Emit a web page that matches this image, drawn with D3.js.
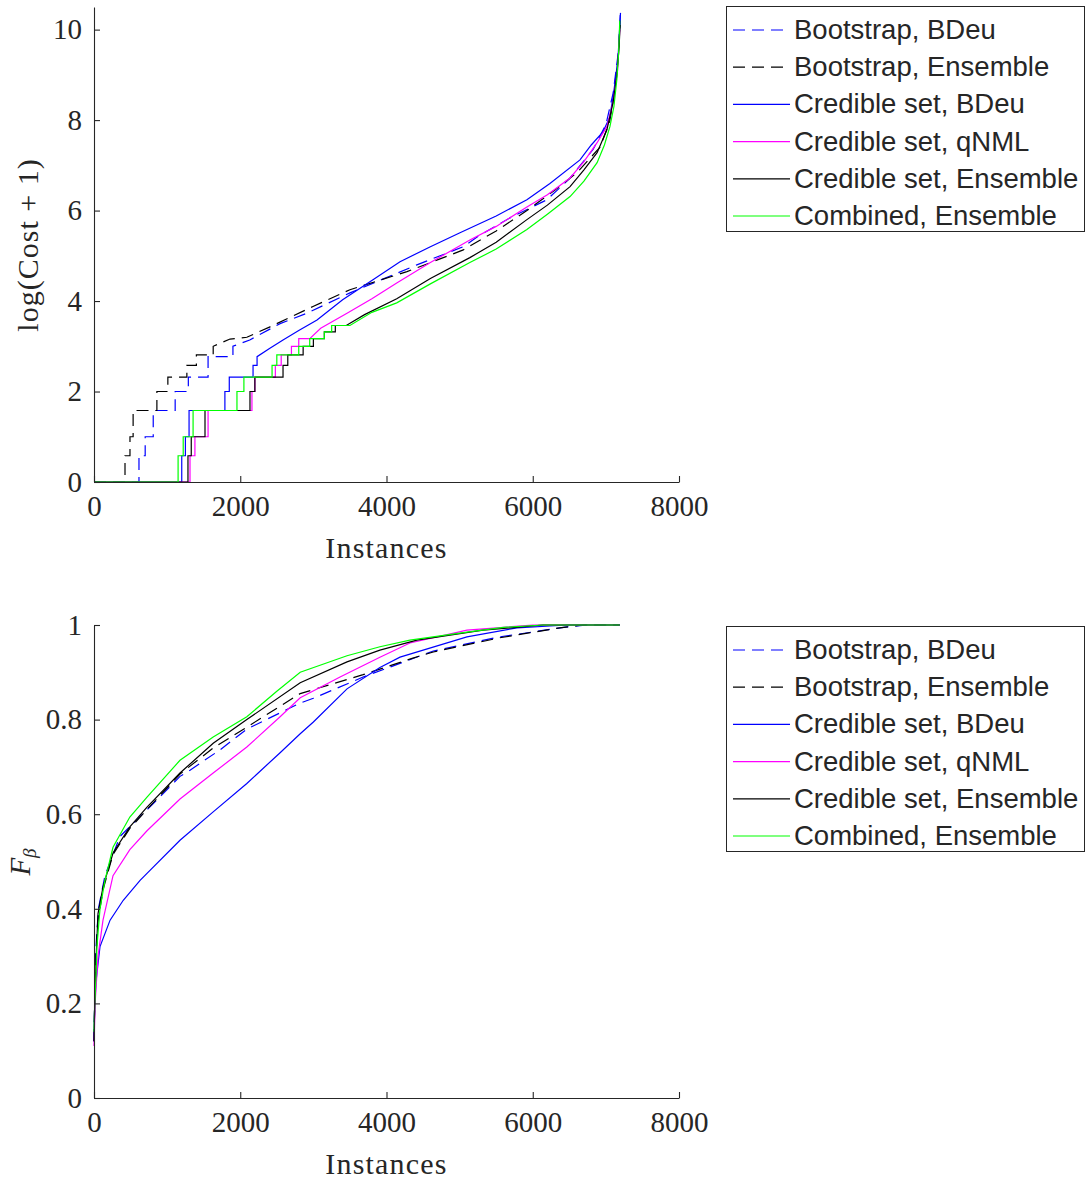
<!DOCTYPE html>
<html>
<head>
<meta charset="utf-8">
<title>Cost and F-beta by instances</title>
<script src="https://cdn.jsdelivr.net/npm/d3@7"></script>
<style>
  body { margin: 0; background: #fff; }
  svg text { fill: #262626; }
</style>
</head>
<body>
<div id="chart"></div>
<script>
// series names (legend order) and styles
var names = ["Bootstrap, BDeu", "Bootstrap, Ensemble", "Credible set, BDeu",
             "Credible set, qNML", "Credible set, Ensemble", "Combined, Ensemble"];
var colors = ["#0000ff", "#000000", "#0000ff", "#ff00ff", "#000000", "#00ff00"];
var dashed = [true, true, false, false, false, false];

var xTicks = [0, 2000, 4000, 6000, 8000];
var costTicks = [0, 2, 4, 6, 8, 10];
var fbTicks = [0, 0.2, 0.4, 0.6, 0.8, 1];

// top panel: log(Cost + 1) per instance, sorted
var costBootBDeu = [[0,0],[615,0],[615,0.58],[700,0.58],[700,1.0],[810,1.0],[810,1.58],[1110,1.58],[1110,2.0],[1290,2.0],[1290,2.32],[1560,2.32],[1560,2.77],[1900,2.77],[1900,3.0],[2130,3.14],[2545,3.5],[2910,3.73],[3500,4.18],[4415,4.8],[5050,5.2],[5280,5.46],[5700,5.85],[6195,6.24],[6500,6.7],[6825,7.35],[7000,7.9],[7100,8.6],[7170,9.5],[7200,10.4]];
var costBootEns = [[0,0],[424,0],[424,0.58],[492,0.58],[492,1.0],[535,1.0],[535,1.58],[860,1.58],[860,2.0],[1010,2.0],[1010,2.32],[1270,2.32],[1270,2.58],[1400,2.58],[1400,2.81],[1630,2.81],[1630,3.0],[1860,3.16],[2090,3.2],[2407,3.43],[2995,3.88],[3500,4.25],[4280,4.65],[5050,5.13],[5500,5.55],[5920,6.0],[6300,6.45],[6600,6.83],[6920,7.4],[7050,7.95],[7120,8.6],[7170,9.4],[7195,10.2]];
var costCredBDeu = [[0,0],[1200,0],[1200,0.58],[1250,0.58],[1250,1.0],[1300,1.0],[1300,1.58],[1790,1.58],[1790,2.0],[1850,2.0],[1850,2.32],[2175,2.32],[2175,2.58],[2230,2.58],[2230,2.77],[2400,2.95],[2585,3.14],[2800,3.35],[3050,3.58],[3400,4.03],[3815,4.47],[4185,4.87],[4600,5.2],[5005,5.51],[5500,5.88],[5920,6.24],[6235,6.6],[6646,7.12],[6800,7.45],[6960,7.74],[7050,8.05],[7100,8.52],[7165,9.34],[7200,10.37]];
var costCredQNML = [[0,0],[1313,0],[1313,0.58],[1380,0.58],[1380,1.0],[1560,1.0],[1560,1.58],[2160,1.58],[2160,2.0],[2200,2.0],[2200,2.32],[2480,2.32],[2480,2.58],[2560,2.58],[2560,2.81],[2700,2.81],[2700,3.0],[2800,3.0],[2800,3.17],[2950,3.17],[3100,3.4],[3460,3.73],[3800,4.05],[4140,4.4],[4600,4.85],[5140,5.35],[5500,5.65],[5920,6.08],[6200,6.35],[6510,6.72],[6700,7.08],[6880,7.5],[7015,7.86],[7100,8.4],[7160,9.1],[7190,10.0]];
var costCredEns = [[0,0],[1285,0],[1285,0.58],[1330,0.58],[1330,1.0],[1518,1.0],[1518,1.58],[2133,1.58],[2133,2.0],[2200,2.0],[2200,2.32],[2585,2.32],[2585,2.58],[2650,2.58],[2650,2.81],[2860,2.81],[2860,3.0],[3000,3.0],[3000,3.17],[3150,3.17],[3150,3.32],[3300,3.32],[3300,3.46],[3450,3.46],[3700,3.7],[4140,4.05],[4600,4.5],[5140,4.96],[5500,5.3],[5920,5.8],[6200,6.12],[6510,6.53],[6700,6.9],[6880,7.28],[7015,7.79],[7100,8.4],[7150,9.0],[7180,9.6],[7195,10.1]];
var costCombEns = [[0,0],[1150,0],[1150,0.58],[1220,0.58],[1220,1.0],[1355,1.0],[1355,1.58],[1955,1.58],[1955,2.0],[2050,2.0],[2050,2.32],[2435,2.32],[2435,2.58],[2500,2.58],[2500,2.81],[2800,2.81],[2800,3.0],[2950,3.0],[2950,3.17],[3150,3.17],[3150,3.32],[3250,3.32],[3250,3.46],[3500,3.46],[3800,3.75],[4140,3.96],[4600,4.38],[5140,4.85],[5500,5.15],[5920,5.58],[6200,5.92],[6510,6.31],[6700,6.65],[6880,7.06],[6980,7.45],[7056,7.86],[7110,8.3],[7150,8.9],[7175,9.5],[7190,10.2]];

// bottom panel: F_beta per instance, sorted
var fbBootBDeu = [[0,0.12],[20,0.3],[60,0.4],[150,0.47],[355,0.553],[860,0.63],[1176,0.68],[1313,0.693],[1723,0.736],[2090,0.78],[2820,0.835],[3000,0.845],[3680,0.89],[4640,0.945],[5550,0.975],[6470,0.996],[6740,1.0],[7190,1.0]];
var fbBootEns = [[0,0.12],[15,0.25],[50,0.37],[123,0.44],[260,0.515],[490,0.57],[725,0.61],[1176,0.685],[1630,0.74],[2090,0.784],[2820,0.855],[3680,0.895],[4360,0.93],[4640,0.943],[5550,0.973],[6370,0.994],[6690,1.0],[7190,1.0]];
var fbCredBDeu = [[0,0.12],[10,0.2],[30,0.25],[82,0.32],[220,0.376],[400,0.418],[630,0.46],[725,0.475],[1176,0.545],[1630,0.605],[2090,0.665],[2545,0.73],[2820,0.77],[3000,0.795],[3460,0.865],[3910,0.91],[4185,0.932],[5100,0.975],[5785,0.994],[6470,1.0],[7190,1.0]];
var fbCredQNML = [[0,0.11],[15,0.2],[55,0.30],[123,0.376],[260,0.47],[490,0.525],[725,0.565],[1176,0.632],[1630,0.687],[2090,0.742],[2545,0.806],[2820,0.846],[3365,0.89],[3910,0.932],[4320,0.962],[5100,0.989],[6000,1.0],[7190,1.0]];
var fbCredEns = [[0,0.12],[10,0.2],[30,0.3],[55,0.39],[123,0.446],[260,0.518],[490,0.573],[725,0.615],[1176,0.687],[1630,0.75],[2090,0.80],[2820,0.878],[3460,0.922],[3910,0.947],[4415,0.968],[5320,0.989],[6140,1.0],[7190,1.0]];
var fbCombEns = [[0,0.14],[10,0.2],[25,0.25],[40,0.32],[82,0.40],[150,0.46],[260,0.53],[490,0.594],[725,0.636],[1176,0.714],[1630,0.763],[2090,0.806],[2500,0.86],[2820,0.90],[3460,0.935],[3910,0.954],[4320,0.968],[5100,0.985],[5600,0.995],[6140,1.0],[7190,1.0]];

var costSeries = [costBootBDeu, costBootEns, costCredBDeu, costCredQNML, costCredEns, costCombEns];
var fbSeries = [fbBootBDeu, fbBootEns, fbCredBDeu, fbCredQNML, fbCredEns, fbCombEns];

var width = 1086, height = 1181;
var svg = d3.select("#chart").append("svg")
    .attr("width", width)
    .attr("height", height);

var axisColor = "#262626";
var serif = "'Liberation Serif', 'DejaVu Serif', serif";
var sans = "'Liberation Sans', Arial, sans-serif";

function panel(series, yDomain, yTicks, yFormat, top, bottom, legendTop) {
    var x = d3.scaleLinear().domain([0, 8000]).range([94, 679]);
    var y = d3.scaleLinear().domain(yDomain).range([bottom, top]);

    var g = svg.append("g");

    // lines
    var line = d3.line()
        .x(function(d) { return x(d[0]); })
        .y(function(d) { return y(d[1]); });

    series.forEach(function(s, i) {
        g.append("path")
            .datum(s)
            .attr("fill", "none")
            .attr("stroke", colors[i])
            .attr("stroke-width", 1.2)
            .attr("stroke-dasharray", dashed[i] ? "12,7" : null)
            .attr("d", line);
    });

    // x axis
    var xa = g.append("g")
        .attr("transform", "translate(0," + y(yDomain[0]) + ")")
        .call(d3.axisBottom(x).tickValues(xTicks).tickFormat(d3.format("d"))
              .tickSizeInner(-6).tickSizeOuter(0).tickPadding(13));
    // y axis
    var ya = g.append("g")
        .attr("transform", "translate(" + x(0) + ",0)")
        .call(d3.axisLeft(y).tickValues(yTicks).tickFormat(yFormat)
              .tickSizeInner(-6).tickSizeOuter(0).tickPadding(12));

    [xa, ya].forEach(function(a) {
        a.select(".domain").attr("stroke", axisColor).attr("stroke-width", 1.1);
        a.selectAll(".tick line").attr("stroke", axisColor).attr("stroke-width", 1.1);
        a.selectAll(".tick text")
            .style("font-family", serif)
            .style("font-size", "29px")
            .attr("fill", axisColor);
    });

    g.append("text")
        .attr("x", (x(0) + x(8000)) / 2)
        .attr("y", bottom + 76)
        .attr("text-anchor", "middle")
        .style("font-family", serif)
        .style("font-size", "30px")
        .style("letter-spacing", "1.2px")
        .text("Instances");

    // legend
    var lg = g.append("g").attr("transform", "translate(726," + legendTop + ")");
    lg.append("rect")
        .attr("x", 0.5).attr("y", 0.5)
        .attr("width", 358).attr("height", 225)
        .attr("fill", "#fff")
        .attr("stroke", "#262626")
        .attr("stroke-width", 1);
    names.forEach(function(n, i) {
        var cy = 24 + i * 37.2;
        lg.append("line")
            .attr("x1", 7).attr("x2", 64)
            .attr("y1", cy).attr("y2", cy)
            .attr("stroke", colors[i])
            .attr("stroke-width", 1.2)
            .attr("stroke-dasharray", dashed[i] ? "12,7" : null);
        lg.append("text")
            .attr("x", 68)
            .attr("y", cy + 9)
            .style("font-family", sans)
            .style("font-size", "27.5px")
            .attr("fill", "#1a1a1a")
            .text(n);
    });
    return g;
}

var topPanel = panel(costSeries, [0, 10.5], costTicks, d3.format("d"), 7, 482, 6);
topPanel.append("text")
    .attr("transform", "translate(38,245) rotate(-90)")
    .attr("text-anchor", "middle")
    .style("font-family", serif)
    .style("font-size", "30px")
    .style("letter-spacing", "1px")
    .text("log(Cost + 1)");

var fmt = function(d) { return d === 0 || d === 1 ? String(d) : d3.format(".1f")(d); };
var botPanel = panel(fbSeries, [0, 1], fbTicks, fmt, 625, 1098, 626);
var fl = botPanel.append("text")
    .attr("transform", "translate(30,862) rotate(-90)")
    .attr("text-anchor", "middle")
    .style("font-family", serif)
    .style("font-size", "29px");
fl.append("tspan").style("font-style", "italic").text("F");
fl.append("tspan").attr("dy", 6).style("font-size", "19px").style("font-style", "italic").text("β");
</script>
</body>
</html>
